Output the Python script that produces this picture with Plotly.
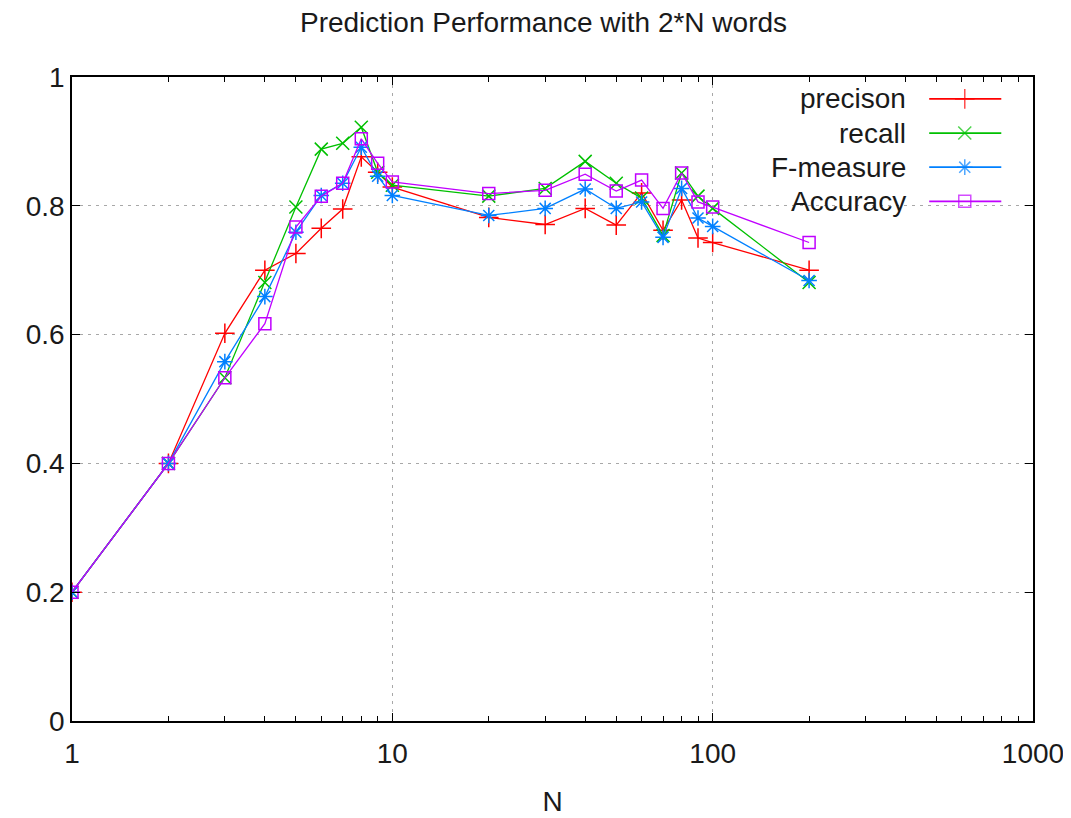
import plotly.graph_objects as go

N = [1, 2, 3, 4, 5, 6, 7, 8, 9, 10, 20, 30, 40, 50, 60, 70, 80, 90, 100, 200]
precision = [0.2, 0.4, 0.602, 0.700, 0.726, 0.765, 0.795, 0.876, 0.852, 0.829,
             0.782, 0.771, 0.796, 0.770, 0.820, 0.762, 0.809, 0.750, 0.743, 0.700]
recall = [0.2, 0.4, 0.533, 0.681, 0.798, 0.888, 0.897, 0.922, 0.852, 0.832,
          0.815, 0.827, 0.869, 0.835, 0.812, 0.754, 0.851, 0.815, 0.796, 0.681]
fmeasure = [0.2, 0.4, 0.558, 0.659, 0.759, 0.816, 0.835, 0.891, 0.846, 0.816,
            0.785, 0.796, 0.826, 0.796, 0.806, 0.751, 0.827, 0.781, 0.768, 0.684]
accuracy = [0.2, 0.4, 0.533, 0.617, 0.767, 0.815, 0.835, 0.904, 0.866, 0.837,
            0.819, 0.824, 0.849, 0.823, 0.840, 0.796, 0.851, 0.806, 0.798, 0.743]

names = ["precison", "recall", "F-measure", "Accuracy"]
colors = ["#ff0000", "#00c000", "#0080ff", "#c000ff"]
symbols = ["cross-thin-open", "x-thin-open", "asterisk-open", "square-open"]
sizes = [14, 13, 13, 12]
series = [precision, recall, fmeasure, accuracy]

FONT = "Liberation Sans, Arial, sans-serif"
FS = 28
fig = go.Figure()

for name, col, sym, sz, ys in zip(names, colors, symbols, sizes, series):
    fig.add_trace(go.Scatter(
        x=N, y=ys, mode="lines+markers", name=name, showlegend=False,
        line=dict(color=col, width=1.3),
        marker=dict(symbol=sym, size=sz, color=col, line=dict(color=col, width=1.5)),
    ))

# custom gnuplot-style key (text right-aligned, sample to the right)
key_y = [0.966, 0.913, 0.860, 0.807]
for name, col, sym, sz, ky in zip(names, colors, symbols, sizes, key_y):
    fig.add_trace(go.Scatter(
        x=[0.892, 0.929, 0.967], y=[ky, ky, ky], xaxis="x2", yaxis="y2",
        mode="lines+markers", showlegend=False, hoverinfo="skip",
        line=dict(color=col, width=1.8),
        marker=dict(symbol=sym, size=[0, sz, 0], color=col, line=dict(color=col, width=1.5)),
    ))
    fig.add_annotation(x=0.870, y=ky, xref="paper", yref="paper", text=name,
                       showarrow=False, xanchor="right", yanchor="middle",
                       font=dict(family=FONT, size=FS, color="#1a1a1a"))

fig.update_layout(
    width=1071, height=818,
    margin=dict(l=64, r=46, t=69, b=105),
    paper_bgcolor="white", plot_bgcolor="white",
    font=dict(family=FONT, size=FS, color="#1a1a1a"),
    title=dict(text="Prediction Performance with 2*N words", x=0.5, xanchor="center",
               y=1 - 14 / 818, yanchor="middle", font=dict(size=FS, family=FONT)),
    xaxis=dict(
        type="log", range=[0, 3], tickvals=[1, 10, 100, 1000],
        ticktext=["1", "10", "100", "1000"],
        ticks="inside", ticklen=8, tickwidth=1.2, tickcolor="black",
        showline=True, linecolor="black", linewidth=1.5, mirror="ticks",
        showgrid=True, gridcolor="#a8a8a8", griddash="3px,5px", gridwidth=1,
        zeroline=False, ticklabelstandoff=7, automargin=False,
        minor=dict(ticks="inside", ticklen=5, tickcolor="black", tickwidth=1.2,
                   showgrid=False, dtick="D1"),
        title=dict(text="N", standoff=23, font=dict(size=FS)),
        tickfont=dict(size=FS),
    ),
    yaxis=dict(
        range=[0, 1], dtick=0.2, tick0=0,
        ticks="inside", ticklen=8, tickwidth=1.2, tickcolor="black",
        showline=True, linecolor="black", linewidth=1.5, mirror="ticks",
        showgrid=True, gridcolor="#a8a8a8", griddash="3px,5px", gridwidth=1,
        zeroline=False, tickfont=dict(size=FS), automargin=False,
    ),
    xaxis2=dict(overlaying="x", range=[0, 1], visible=False, domain=[0, 1]),
    yaxis2=dict(overlaying="y", range=[0, 1], visible=False),
)

fig.write_html("out.html")
